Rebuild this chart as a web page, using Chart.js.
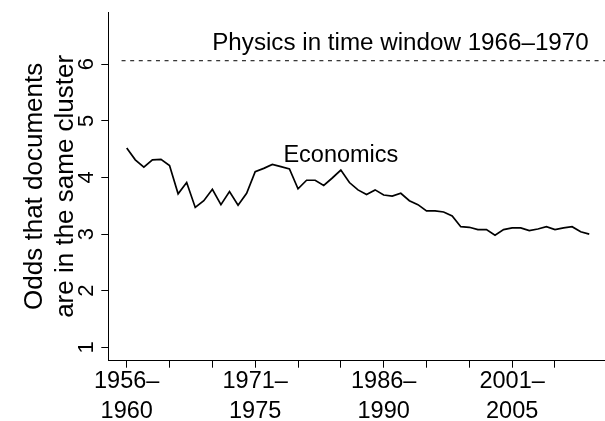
<!DOCTYPE html>
<html lang="en">
<head>
  <meta charset="UTF-8" />
  <title>Odds that documents are in the same cluster</title>
  <script src="https://cdn.jsdelivr.net/npm/chart.js"></script>
  <style>
    body { margin: 0; background: #fff; }
    #wrap { width: 605px; height: 421px; }
  </style>
</head>
<body>
  <div id="wrap"><canvas id="chart" width="605" height="421"></canvas></div>
  <script>
    // start year of each 5-year window (1956-1960 ... 2010-2014)
    const windowStarts = [
      1956, 1957, 1958, 1959, 1960, 1961, 1962, 1963, 1964, 1965,
      1966, 1967, 1968, 1969, 1970, 1971, 1972, 1973, 1974, 1975,
      1976, 1977, 1978, 1979, 1980, 1981, 1982, 1983, 1984, 1985,
      1986, 1987, 1988, 1989, 1990, 1991, 1992, 1993, 1994, 1995,
      1996, 1997, 1998, 1999, 2000, 2001, 2002, 2003, 2004, 2005,
      2006, 2007, 2008, 2009, 2010
    ];
    const economicsOdds = [
      4.52, 4.31, 4.18, 4.31, 4.32, 4.21, 3.71, 3.91, 3.47, 3.59,
      3.79, 3.52, 3.75, 3.51, 3.72, 4.10, 4.16, 4.23, 4.19, 4.15,
      3.80, 3.95, 3.95, 3.86, 3.99, 4.13, 3.91, 3.78, 3.70, 3.78,
      3.69, 3.67, 3.72, 3.59, 3.52, 3.41, 3.41, 3.39, 3.32, 3.13,
      3.12, 3.08, 3.08, 2.98, 3.08, 3.11, 3.11, 3.06, 3.09, 3.13,
      3.08, 3.11, 3.13, 3.04, 3.00
    ];
    // reference level: physics, window 1966-1970
    const physicsOdds = 6.06;
    const physicsSpan = [1955.4, 2011.84];

    const xTickValues = [1956, 1961, 1966, 1971, 1976, 1981, 1986, 1991, 1996, 2001, 2006];
    const xLabelStarts = [1956, 1971, 1986, 2001];
    const yTickValues = [1, 2, 3, 4, 5, 6];

    const FONT = "'Liberation Sans', Arial, Helvetica, sans-serif";

    // text labels placed in data units
    const notes = [
      { text: "Economics", x: 1981.0, y: 4.276, size: 23.5 },
      { text: "Physics in time window 1966\u20131970", x: 1987.96, y: 6.247, size: 24.2 }
    ];

    const notesPlugin = {
      id: "notes",
      afterDatasetsDraw(chart) {
        const { ctx, scales } = chart;
        ctx.save();
        ctx.fillStyle = "#000";
        ctx.textAlign = "center";
        ctx.textBaseline = "alphabetic";
        notes.forEach(n => {
          ctx.font = n.size + "px " + FONT;
          ctx.fillText(n.text, scales.x.getPixelForValue(n.x), scales.y.getPixelForValue(n.y));
        });
        ctx.restore();
      }
    };

    new Chart(document.getElementById("chart").getContext("2d"), {
      type: "line",
      data: {
        datasets: [
          {
            label: "Economics",
            data: windowStarts.map((yr, i) => ({ x: yr, y: economicsOdds[i] })),
            borderColor: "#000",
            borderWidth: 1.7,
            pointRadius: 0,
            tension: 0,
            fill: false
          },
          {
            label: "Physics 1966-1970",
            data: physicsSpan.map(x => ({ x: x, y: physicsOdds })),
            borderColor: "#000",
            borderWidth: 1,
            borderDash: [4, 4.6],
            pointRadius: 0,
            fill: false
          }
        ]
      },
      options: {
        responsive: false,
        animation: false,
        events: [],
        layout: { padding: { top: 12, right: 0, bottom: 0, left: 0 } },
        plugins: {
          legend: { display: false },
          tooltip: { enabled: false }
        },
        scales: {
          x: {
            type: "linear",
            min: 1953.85,
            max: 2011.84,
            afterBuildTicks: s => { s.ticks = xTickValues.map(v => ({ value: v })); },
            afterFit: s => {
              s.height = 60.3;
              s.paddingLeft = 0; s.paddingRight = 0;
            },
            grid: {
              display: true,
              drawOnChartArea: false,
              drawTicks: true,
              tickLength: 7,
              color: "#000",
              lineWidth: 1
            },
            border: { display: true, color: "#000", width: 1 },
            ticks: {
              autoSkip: false,
              maxRotation: 0,
              minRotation: 0,
              padding: -1,
              color: "#000",
              font: { family: FONT, size: 23.5, lineHeight: 1.28 },
              callback: v => xLabelStarts.includes(v) ? [v + "\u2013", String(v + 4)] : ""
            }
          },
          y: {
            type: "linear",
            min: 0.765,
            max: 6.92,
            afterBuildTicks: s => { s.ticks = yTickValues.map(v => ({ value: v })); },
            afterFit: s => {
              s.width = 108.3;
              s.paddingTop = 0; s.paddingBottom = 0;
            },
            grid: {
              display: true,
              drawOnChartArea: false,
              drawTicks: true,
              tickLength: 7,
              color: "#000",
              lineWidth: 1
            },
            border: { display: true, color: "#000", width: 1 },
            ticks: {
              minRotation: 90,
              maxRotation: 90,
              crossAlign: "center",
              padding: 8.5,
              color: "#000",
              font: { family: FONT, size: 22 },
              callback: v => String(v)
            },
            title: {
              display: true,
              text: ["Odds that documents", "are in the same cluster"],
              color: "#000",
              font: { family: FONT, size: 26, lineHeight: 1.2 },
              padding: { top: 19, bottom: 0 }
            }
          }
        }
      },
      plugins: [notesPlugin]
    });
  </script>
</body>
</html>
